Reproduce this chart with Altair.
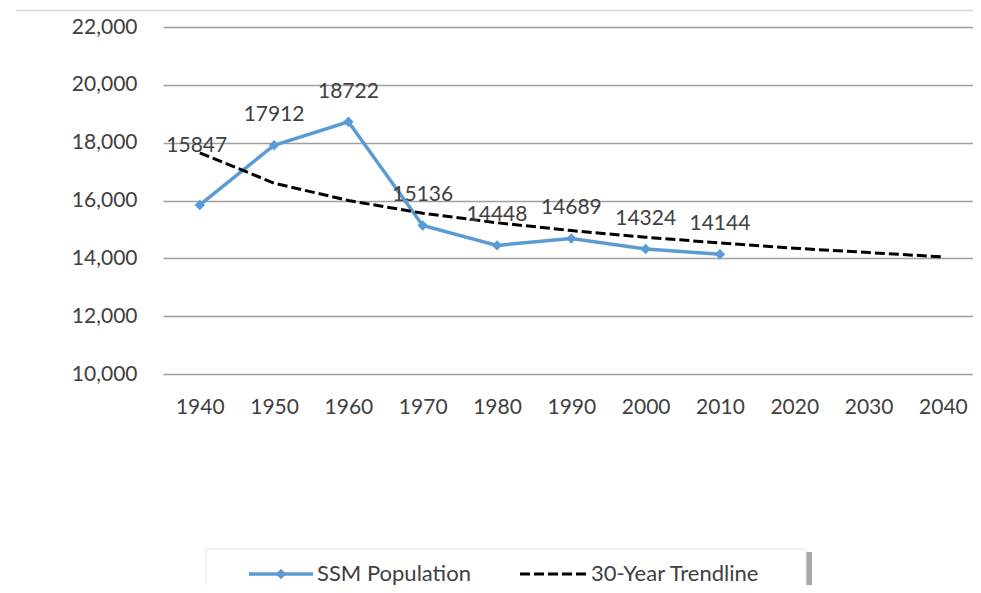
import altair as alt
import pandas as pd

# ---- data ----
years = [1940, 1950, 1960, 1970, 1980, 1990, 2000, 2010, 2020, 2030, 2040]
ssm_years = [1940, 1950, 1960, 1970, 1980, 1990, 2000, 2010]
ssm_values = [15847, 17912, 18722, 15136, 14448, 14689, 14324, 14144]
trend_values = [17650, 16600, 16000, 15560, 15230, 14960, 14730, 14530, 14350, 14200, 14050]
y_ticks = [10000, 12000, 14000, 16000, 18000, 20000, 22000]
legend_labels = ["SSM Population", "30-Year Trendline"]

FONT = "Lato"
BLUE = "#5B9BD5"
TEXT = "#404040"
FS = 21

ssm = pd.DataFrame({"year": ssm_years, "value": ssm_values})
trend = pd.DataFrame({"year": years, "value": trend_values})
one = pd.DataFrame({"k": [0]})

x = alt.X(
    "year:O",
    scale=alt.Scale(domain=years, padding=0.45, align=0.55),
    axis=alt.Axis(
        title=None, labelAngle=0, ticks=False, tickSize=0, domain=False, grid=False,
        labelPadding=33, labelBaseline="middle", labelFontSize=FS, labelFont=FONT,
        labelColor=TEXT,
    ),
)
y = alt.Y(
    "value:Q",
    scale=alt.Scale(domain=[y_ticks[0], y_ticks[-1]], nice=False, zero=False),
    axis=alt.Axis(
        title=None, values=y_ticks, format=",d", grid=True, gridColor="#A0A0A0",
        gridWidth=1.3, domain=False, ticks=False, tickSize=0, labelPadding=26,
        labelFontSize=FS, labelFont=FONT, labelColor=TEXT, labelBaseline="middle",
    ),
)

ssm_line = alt.Chart(ssm).mark_line(color=BLUE, strokeWidth=3.5).encode(x=x, y=y)
ssm_pts = alt.Chart(ssm).mark_point(
    shape="diamond", filled=True, size=110, color=BLUE, opacity=1
).encode(x=x, y=y)
trend_line = alt.Chart(trend).mark_line(
    color="black", strokeWidth=3, strokeDash=[10, 4]
).encode(x=x, y=y)

labels = alt.Chart(ssm).transform_filter(alt.datum.year != 1940).mark_text(
    dy=-30, font=FONT, fontSize=FS, color=TEXT, baseline="middle"
).encode(x=x, y=y, text=alt.Text("value:Q", format="d"))
label_first = alt.Chart(ssm).transform_filter(alt.datum.year == 1940).mark_text(
    dy=-59, dx=-3, font=FONT, fontSize=FS, color=TEXT, baseline="middle"
).encode(x=x, y=y, text=alt.Text("value:Q", format="d"))

# ---- decorations: chart border top edge and manual legend ----
top_border = alt.Chart(one).mark_rule(color="#D6D6D6", strokeWidth=1.5).encode(
    x=alt.value(-147), x2=alt.value(810), y=alt.value(-16.5)
)
leg_shadow = alt.Chart(one).mark_rect(color="#A8A8A8").encode(
    x=alt.value(643), x2=alt.value(649), y=alt.value(525), y2=alt.value(600)
)
leg_box = alt.Chart(one).mark_rect(fill="white", stroke="#E4E4E4", strokeWidth=1).encode(
    x=alt.value(43), x2=alt.value(643), y=alt.value(522), y2=alt.value(600)
)
leg_line1 = alt.Chart(one).mark_rule(color=BLUE, strokeWidth=3.5).encode(
    x=alt.value(86), x2=alt.value(150), y=alt.value(547)
)
leg_pt1 = alt.Chart(one).mark_point(
    shape="diamond", filled=True, size=110, color=BLUE, opacity=1
).encode(x=alt.value(118), y=alt.value(547))
leg_txt1 = alt.Chart(one).mark_text(
    align="left", baseline="middle", font=FONT, fontSize=22, color=TEXT
).encode(x=alt.value(154), y=alt.value(547), text=alt.value(legend_labels[0]))
leg_line2 = alt.Chart(one).mark_rule(color="black", strokeWidth=3, strokeDash=[10, 4]).encode(
    x=alt.value(357), x2=alt.value(424), y=alt.value(547)
)
leg_txt2 = alt.Chart(one).mark_text(
    align="left", baseline="middle", font=FONT, fontSize=22, color=TEXT
).encode(x=alt.value(428), y=alt.value(547), text=alt.value(legend_labels[1]))

chart = alt.layer(
    top_border, ssm_line, ssm_pts, trend_line, labels, label_first,
    leg_shadow, leg_box, leg_line1, leg_pt1, leg_txt1, leg_line2, leg_txt2,
).properties(
    width=810, height=347,
    autosize=alt.AutoSizeParams(type="none"),
    padding={"left": 155, "top": 19, "right": 0, "bottom": 211},
    background="white",
).configure_view(stroke=None)

chart.save("out.html", embed_options={"renderer": "svg", "actions": False})
